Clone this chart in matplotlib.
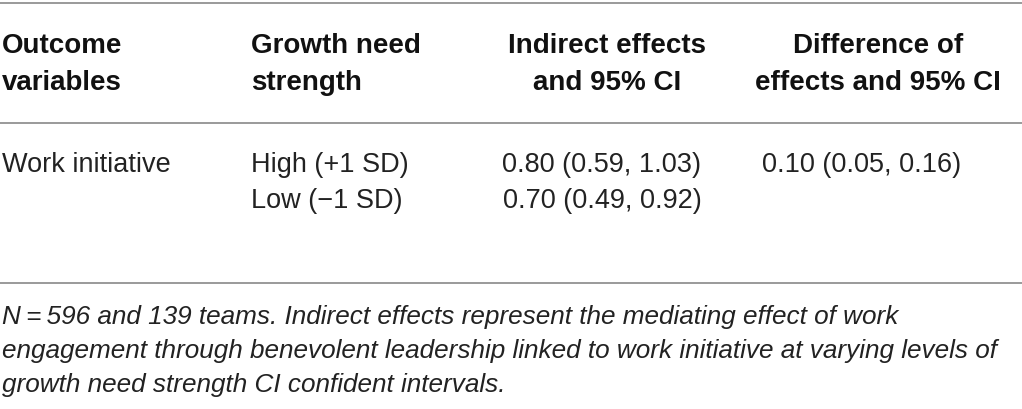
import matplotlib
matplotlib.use('Agg')
import matplotlib.pyplot as plt

# table content
headers = [['Outcome', 'variables'],
           ['Growth need', 'strength'],
           ['Indirect effects', 'and 95% CI'],
           ['Difference of', 'effects and 95% CI']]
outcome = ['Work initiative', '']
gns_levels = ['High (+1 SD)', 'Low (\u22121 SD)']
indirect = ['0.80 (0.59, 1.03)', '0.70 (0.49, 0.92)']
difference = ['0.10 (0.05, 0.16)', '']
footnote = ['N\u2009=\u2009596 and 139 teams. Indirect effects represent the mediating effect of work',
            'engagement through benevolent leadership linked to work initiative at varying levels of',
            'growth need strength CI confident intervals.']

W, H = 1022, 410
fig = plt.figure(figsize=(W / 100, H / 100), dpi=100)
ax = fig.add_axes([0, 0, 1, 1])
ax.set_xlim(0, W)
ax.set_ylim(H, 0)
ax.axis('off')

font = 'Liberation Sans'
col_x = [2, 251, 607, 878]
col_ha = ['left', 'left', 'center', 'center']
data_x = [2, 251, 602, 862]
data_ha = ['left', 'left', 'center', 'center']

# rules
for y in (4, 124, 284):
    ax.plot([0, W], [y, y], color='#9a9a9a', lw=1.4, solid_capstyle='butt')

# header
for i, lines in enumerate(headers):
    for j, s in enumerate(lines):
        ax.text(col_x[i], 53 + j * 37, s, ha=col_ha[i], va='baseline',
                fontsize=20, fontweight='bold', family=font, color='#111111')

# body rows
cols = [outcome, gns_levels, indirect, difference]
for i, col in enumerate(cols):
    for j, s in enumerate(col):
        if s:
            ax.text(data_x[i], 172 + j * 36, s, ha=data_ha[i], va='baseline',
                    fontsize=19.5, family=font, color='#222222')

# footnote
for j, s in enumerate(footnote):
    ax.text(2, 324 + j * 34, s, ha='left', va='baseline', fontsize=18.8,
            family=font, style='italic', color='#222222')

fig.savefig('out.png', dpi=100)
